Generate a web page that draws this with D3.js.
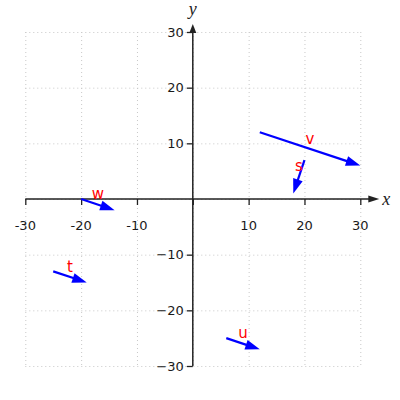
<!DOCTYPE html>
<html>
<head>
<meta charset="utf-8">
<script src="https://cdn.jsdelivr.net/npm/d3@7"></script>
<style>
  html, body { margin: 0; padding: 0; background: #fff; }
  svg { display: block; }
</style>
</head>
<body>
<div id="chart"></div>
<script>
'use strict';

// vectors: label, tail point, components
const names = ['v', 's', 'w', 't', 'u'];
const tailX = [12, 20, -20, -25, 6];
const tailY = [12, 7, 0, -13, -25];
const compX = [18, -2, 6, 6, 6];
const compY = [-6, -6, -2, -2, -2];

const tickValues = [-30, -20, -10, 10, 20, 30];
const gridValues = [-30, -20, -10, 0, 10, 20, 30];

const size = { width: 400, height: 400 };
const tickFont = '"DejaVu Sans", sans-serif';

const x = d3.scaleLinear().domain([-30, 30]).range([25.3, 360.3]);
const y = d3.scaleLinear().domain([-30, 30]).range([366, 32]);

const svg = d3.select('#chart')
    .append('svg')
    .attr('width', size.width)
    .attr('height', size.height);

// dotted grid
const grid = svg.append('g')
    .attr('stroke', '#c8c8c8')
    .attr('stroke-width', 1)
    .attr('stroke-dasharray', '1,3');

grid.selectAll('.vgrid')
    .data(gridValues)
    .enter()
    .append('line')
    .attr('x1', d => x(d) + 0.5)
    .attr('x2', d => x(d) + 0.5)
    .attr('y1', y(30))
    .attr('y2', y(-30));

grid.selectAll('.hgrid')
    .data(gridValues)
    .enter()
    .append('line')
    .attr('x1', x(-30))
    .attr('x2', x(30))
    .attr('y1', d => y(d) + 0.5)
    .attr('y2', d => y(d) + 0.5);

// axes through origin
const xAxis = d3.axisBottom(x)
    .tickValues(gridValues)
    .tickFormat('')
    .tickSize(6)
    .tickSizeOuter(0);

const yAxis = d3.axisLeft(y)
    .tickValues(tickValues)
    .tickSize(6)
    .tickSizeOuter(0)
    .tickPadding(3);

const gx = svg.append('g')
    .attr('transform', `translate(0,${y(0)})`)
    .call(xAxis);
gx.select('.domain').remove();

const gy = svg.append('g')
    .attr('transform', `translate(${x(0)},0)`)
    .call(yAxis);
gy.select('.domain').remove();

svg.selectAll('.tick line').attr('stroke', '#222').attr('stroke-width', 1.3);
gy.selectAll('.tick text')
    .attr('fill', '#1a1a1a')
    .style('font-family', tickFont)
    .style('font-size', '13px');

// x tick labels sit well below the axis
svg.append('g')
    .selectAll('text')
    .data(tickValues)
    .enter()
    .append('text')
    .attr('x', d => x(d))
    .attr('y', y(0) + 26)
    .attr('dy', '0.35em')
    .attr('text-anchor', 'middle')
    .attr('fill', '#1a1a1a')
    .style('font-family', tickFont)
    .style('font-size', '13px')
    .text(d => d);

// axis lines with arrow heads
const axisColor = '#222';
svg.append('line')
    .attr('x1', x(-30)).attr('x2', x(30) + 10)
    .attr('y1', y(0)).attr('y2', y(0))
    .attr('stroke', axisColor).attr('stroke-width', 1.5);
svg.append('path')
    .attr('d', `M${x(30) + 8},${y(0) - 3.5}L${x(30) + 19},${y(0)}L${x(30) + 8},${y(0) + 3.5}Z`)
    .attr('fill', axisColor);

svg.append('line')
    .attr('x1', x(0)).attr('x2', x(0))
    .attr('y1', y(-30)).attr('y2', y(30) - 1)
    .attr('stroke', axisColor).attr('stroke-width', 1.5);
svg.append('path')
    .attr('d', `M${x(0) - 3.5},${y(30) + 1}L${x(0)},${y(30) - 8}L${x(0) + 3.5},${y(30) + 1}Z`)
    .attr('fill', axisColor);

svg.append('text')
    .attr('x', x(30) + 26)
    .attr('y', y(0) + 6)
    .attr('text-anchor', 'middle')
    .style('font-family', '"Liberation Serif", serif')
    .style('font-style', 'italic')
    .style('font-size', '18px')
    .attr('fill', '#222')
    .text('x');

svg.append('text')
    .attr('x', x(0))
    .attr('y', y(30) - 17)
    .attr('text-anchor', 'middle')
    .style('font-family', '"Liberation Serif", serif')
    .style('font-style', 'italic')
    .style('font-size', '18px')
    .attr('fill', '#222')
    .text('y');

// vectors
const vectors = names.map((n, i) => ({
    name: n,
    x1: tailX[i], y1: tailY[i],
    x2: tailX[i] + compX[i], y2: tailY[i] + compY[i]
}));

const headLen = 14.5;
const headHalf = 5;

const vg = svg.selectAll('.vector')
    .data(vectors)
    .enter()
    .append('g')
    .attr('class', 'vector');

vg.each(function(d) {
    const g = d3.select(this);
    const px1 = x(d.x1), py1 = y(d.y1);
    const px2 = x(d.x2), py2 = y(d.y2);
    const len = Math.hypot(px2 - px1, py2 - py1);
    const ux = (px2 - px1) / len, uy = (py2 - py1) / len;
    const bx = px2 - ux * headLen, by = py2 - uy * headLen;

    g.append('line')
        .attr('x1', px1).attr('y1', py1)
        .attr('x2', bx + ux * 2).attr('y2', by + uy * 2)
        .attr('stroke', '#0000ff')
        .attr('stroke-width', 2.2);

    g.append('path')
        .attr('d', `M${px2},${py2}L${bx - uy * headHalf},${by + ux * headHalf}L${bx + uy * headHalf},${by - ux * headHalf}Z`)
        .attr('fill', '#0000ff');

    g.append('text')
        .attr('x', (px1 + px2) / 2)
        .attr('y', (py1 + py2) / 2 - 10.5)
        .attr('dy', '0.35em')
        .attr('text-anchor', 'middle')
        .attr('fill', '#ff0000')
        .style('font-family', tickFont)
        .style('font-size', '15px')
        .text(d.name);
});
</script>
</body>
</html>
